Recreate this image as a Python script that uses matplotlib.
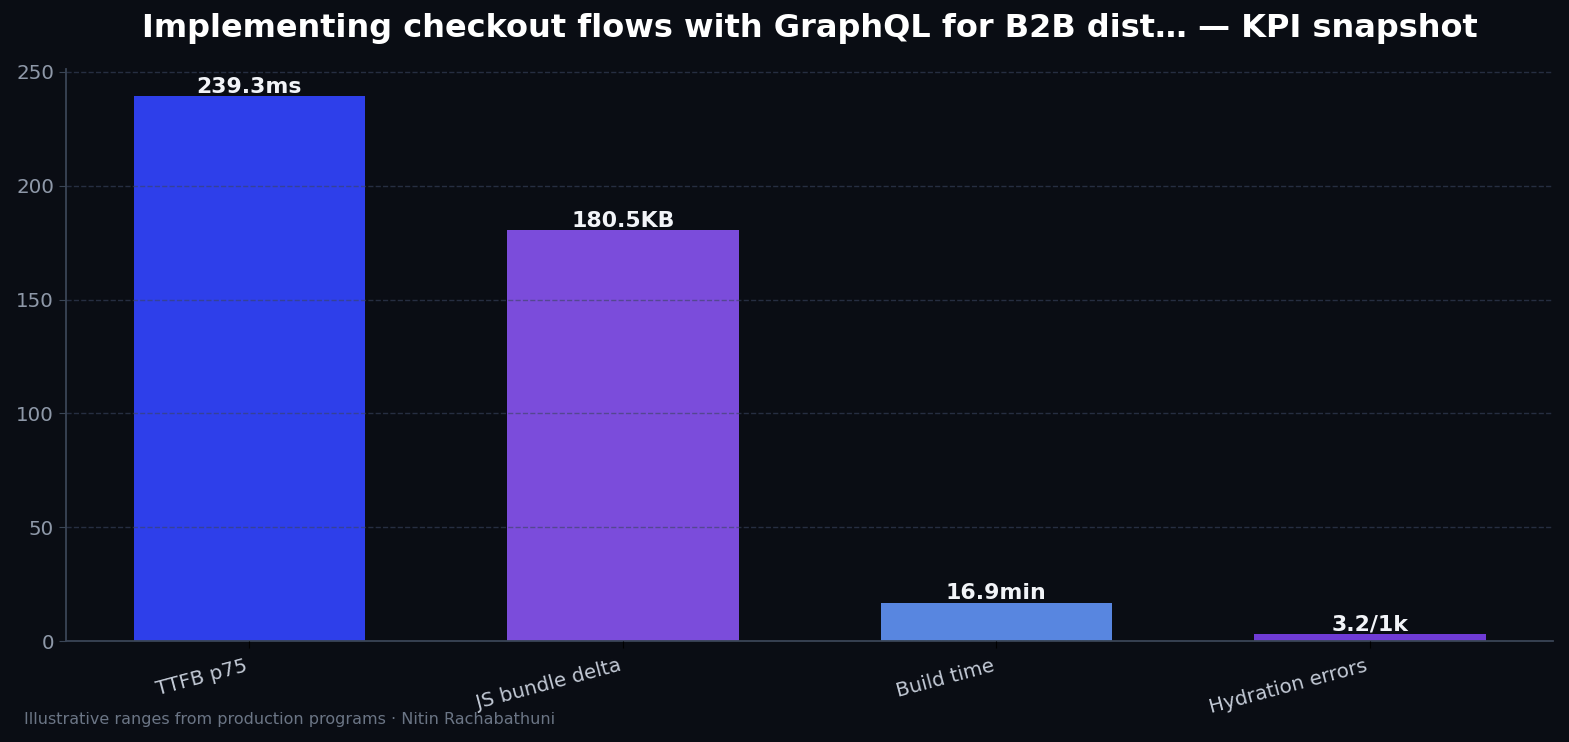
import matplotlib
matplotlib.use("Agg")
import matplotlib.pyplot as plt
import numpy as np

plt.rcParams["font.family"] = ["DejaVu Sans"]

# ---- data ----
categories = ["TTFB p75", "JS bundle delta", "Build time", "Hydration errors"]
values = [239.3, 180.5, 16.9, 3.2]
units = ["ms", "KB", "min", "/1k"]
bar_colors = ["#2e3fea", "#7b4cdb", "#5886e0", "#6f3bd6"]

title = "Implementing checkout flows with GraphQL for B2B dist\u2026 \u2014 KPI snapshot"
footer = "Illustrative ranges from production programs \u00b7 Nitin Rachabathuni"

BG = "#0a0d14"
SPINE = "#3a4556"

fig = plt.figure(figsize=(15.69, 7.42), dpi=100, facecolor=BG)
ax = fig.add_axes([0.042, 0.136, 0.948, 0.771], facecolor=BG)

x = np.arange(len(categories))
bars = ax.bar(x, values, width=0.62, color=bar_colors, zorder=1)

for b, v, u in zip(bars, values, units):
    ax.text(b.get_x() + b.get_width() / 2, v - 0.3, f"{v:.1f}{u}",
            ha="center", va="bottom", color="#f2f4f8",
            fontsize=15.8, fontweight="bold", zorder=4)

ax.set_ylim(0, max(values) * 1.05)
ax.set_yticks([0, 50, 100, 150, 200, 250])
ax.set_xticks(x)
ax.set_xticklabels(categories, rotation=15, ha="right", fontsize=14.3)
ax.tick_params(axis="y", colors=SPINE, labelsize=14.3, length=5)
ax.tick_params(axis="y", labelcolor="#8e98a8")
ax.tick_params(axis="x", colors="#000000", length=5, pad=6)
ax.tick_params(axis="x", labelcolor="#c3cad6")

ax.grid(axis="y", linestyle="--", color="#3a4560", alpha=0.6, linewidth=1.0, zorder=3)
ax.set_axisbelow(False)

for s in ("top", "right"):
    ax.spines[s].set_visible(False)
for s in ("left", "bottom"):
    ax.spines[s].set_color(SPINE)
    ax.spines[s].set_linewidth(1.3)

ax.set_title(title, color="#ffffff", fontsize=23, fontweight="bold", pad=23)

fig.text(0.0153, 0.03, footer, color="#6b7585", fontsize=11.5, ha="left", va="center")

fig.savefig("out.png", dpi=100, facecolor=BG)
